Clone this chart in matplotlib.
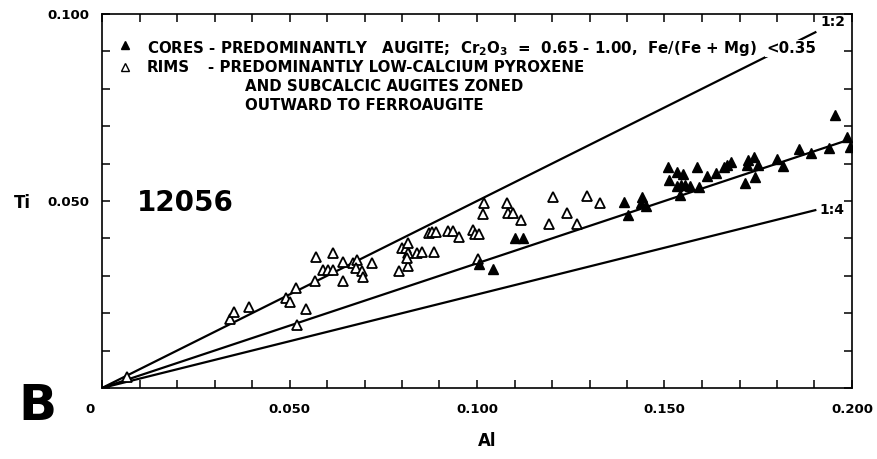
import matplotlib
matplotlib.use("Agg")
import matplotlib.pyplot as plt
import matplotlib.transforms as mtransforms

W, H = 877, 459

# Al, Ti for pyroxene rims (open triangles)
rim_al = [0.0067, 0.0341, 0.0352, 0.0392, 0.0491, 0.0501, 0.0517, 0.0544, 0.0520,
          0.0568, 0.0571, 0.0589, 0.0603, 0.0616, 0.0616, 0.0643, 0.0643, 0.0669,
          0.0680, 0.0677, 0.0693, 0.0696, 0.0720, 0.0792, 0.0816, 0.0800, 0.0811,
          0.0816, 0.0816, 0.0813, 0.0840, 0.0853, 0.0872, 0.0885, 0.0880, 0.0891,
          0.0923, 0.0936, 0.0952, 0.0989, 0.0995, 0.1005, 0.1016, 0.1019, 0.1003,
          0.1080, 0.1083, 0.1096, 0.1117, 0.1192, 0.1203, 0.1240, 0.1267, 0.1293,
          0.1328]
rim_ti = [0.0029, 0.0184, 0.0203, 0.0217, 0.0241, 0.0230, 0.0267, 0.0211, 0.0168,
          0.0286, 0.0350, 0.0316, 0.0316, 0.0316, 0.0361, 0.0337, 0.0286, 0.0334,
          0.0342, 0.0321, 0.0313, 0.0297, 0.0334, 0.0313, 0.0326, 0.0374, 0.0374,
          0.0388, 0.0361, 0.0348, 0.0361, 0.0364, 0.0414, 0.0364, 0.0417, 0.0417,
          0.0420, 0.0420, 0.0404, 0.0422, 0.0412, 0.0412, 0.0465, 0.0495, 0.0345,
          0.0495, 0.0468, 0.0468, 0.0449, 0.0439, 0.0511, 0.0468, 0.0439, 0.0513,
          0.0495]

# Al, Ti for augite cores (filled triangles)
core_al = [0.1005, 0.1043, 0.1101, 0.1123, 0.1392, 0.1403, 0.1440, 0.1437, 0.1451,
           0.1509, 0.1512, 0.1533, 0.1549, 0.1587, 0.1613, 0.1533, 0.1544, 0.1555,
           0.1568, 0.1592, 0.1541, 0.1637, 0.1659, 0.1677, 0.1667, 0.1715, 0.1720,
           0.1723, 0.1739, 0.1741, 0.1749, 0.1800, 0.1816, 0.1859, 0.1891, 0.1939,
           0.1955, 0.1987, 0.1995]
core_ti = [0.0332, 0.0318, 0.0401, 0.0401, 0.0497, 0.0463, 0.0511, 0.0495, 0.0487,
           0.0591, 0.0556, 0.0578, 0.0572, 0.0591, 0.0567, 0.0540, 0.0543, 0.0543,
           0.0540, 0.0537, 0.0516, 0.0575, 0.0591, 0.0604, 0.0596, 0.0548, 0.0596,
           0.0610, 0.0618, 0.0564, 0.0596, 0.0612, 0.0594, 0.0639, 0.0628, 0.0642,
           0.0730, 0.0671, 0.0644]

# Ti:Al reference ratios and how far each line runs along Al
ratio_slopes = [1 / 2, 1 / 3, 1 / 4]
ratio_ends = [0.1905, 0.1995, 0.1905]

x_ticks = [0, 0.05, 0.10, 0.15, 0.20]
x_labels = ["0", "0.050", "0.100", "0.150", "0.200"]
y_ticks = [0.05, 0.10]
y_labels = ["0.050", "0.100"]

plt.rcParams["font.family"] = ["DejaVu Sans"]
plt.rcParams["font.weight"] = "bold"
plt.rcParams["mathtext.default"] = "bf"


def fpos(x, y):
    # pixel position -> figure fraction
    return x / W, 1 - y / H


fig = plt.figure(figsize=(W / 100, H / 100), dpi=100)
ax = fig.add_axes([102 / W, 1 - 388 / H, 750 / W, 374 / H])

for k, end in zip(ratio_slopes, ratio_ends):
    ax.plot([0, end], [0, k * end], color="black", lw=1.6, solid_capstyle="butt", zorder=2)
ax.text(ratio_ends[0] + 0.0012, ratio_slopes[0] * ratio_ends[0] + 0.0008, "1:2",
        fontsize=10, fontweight="bold", ha="left", va="bottom")
ax.text(ratio_ends[2] + 0.0008, ratio_slopes[2] * ratio_ends[2], "1:4",
        fontsize=10, fontweight="bold", ha="left", va="center")

ax.plot(rim_al, rim_ti, linestyle="none", marker="^", ms=7, mfc="white",
        mec="black", mew=1.3, zorder=3)
ax.plot(core_al, core_ti, linestyle="none", marker="^", ms=7, mfc="black",
        mec="black", mew=1.0, zorder=4)

ax.set_xlim(0, 0.2)
ax.set_ylim(0, 0.1)
ax.set_xticks(x_ticks)
ax.set_xticklabels(x_labels)
ax.set_yticks(y_ticks)
ax.set_yticklabels(y_labels)
ax.set_xticks([i / 100 for i in range(21)], minor=True)
ax.set_yticks([i / 100 for i in range(11)], minor=True)
for which in ("major", "minor"):
    ax.tick_params(axis="both", which=which, direction="in", length=6, width=1.1,
                   top=True, right=True, labelsize=9.5)
ax.tick_params(axis="x", which="major", pad=11)
ax.tick_params(axis="y", which="major", pad=9)
for s in ax.spines.values():
    s.set_linewidth(1.2)

# the "0" sits left of the origin
zero = ax.get_xticklabels()[0]
zero.set_transform(zero.get_transform() +
                   mtransforms.ScaledTranslation(-12 / 100, 0, fig.dpi_scale_trans))

# legend block
ax.plot([0.0307], [0.917], transform=ax.transAxes, marker="^", ms=5.5,
        mfc="black", mec="black", clip_on=False)
ax.plot([0.0307], [0.858], transform=ax.transAxes, marker="^", ms=5.5,
        mfc="white", mec="black", mew=1.0, clip_on=False)
lg = dict(fontsize=10.8, fontweight="bold", ha="left", va="baseline")
fig.text(*fpos(147, 53), "CORES - PREDOMINANTLY   AUGITE;  Cr$_2$O$_3$  =  0.65 - 1.00,  "
         "Fe/(Fe + Mg)", **lg)
fig.text(*fpos(766, 53), "<0.35",
         bbox=dict(fc="white", ec="none", pad=1), **lg)
fig.text(*fpos(147, 72), "RIMS", **lg)
fig.text(*fpos(208, 72), "- PREDOMINANTLY LOW-CALCIUM PYROXENE", **lg)
fig.text(*fpos(245, 91), "AND SUBCALCIC AUGITES ZONED", **lg)
fig.text(*fpos(245, 110), "OUTWARD TO FERROAUGITE", **lg)

fig.text(*fpos(137, 211), "12056", fontsize=20, fontweight="bold", ha="left",
         va="baseline")
fig.text(*fpos(14, 208), "Ti", fontsize=12, fontweight="bold", ha="left", va="baseline")
fig.text(*fpos(487, 446), "Al", fontsize=12, fontweight="bold", ha="center",
         va="baseline")
fig.text(*fpos(18, 420), "B", fontsize=36, fontweight="bold", ha="left", va="baseline")

fig.savefig("out.png", dpi=100, facecolor="white")
